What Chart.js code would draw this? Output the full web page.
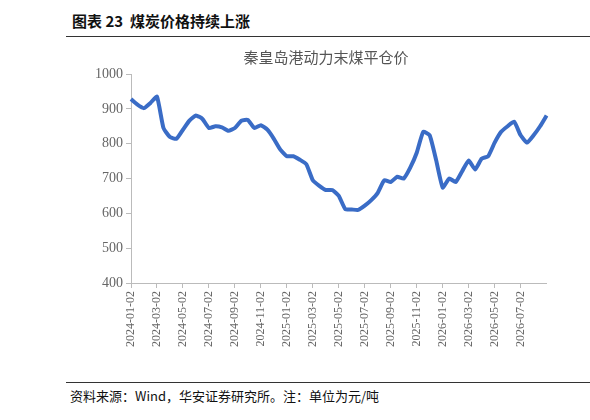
<!DOCTYPE html>
<html><head><meta charset="utf-8">
<script src="https://cdn.jsdelivr.net/npm/chart.js@4"></script>
<style>
body{margin:0;background:#fff;width:590px;height:420px;position:relative;overflow:hidden;font-family:"Noto Sans CJK SC",sans-serif}
#head{position:absolute;left:72px;top:10px;font-size:15px;font-weight:bold;color:#111}
#hline{position:absolute;left:66px;top:36px;width:524px;border-top:1px solid #333}
#foot{position:absolute;left:70px;top:386px;font-size:13px;color:#111}
#fline{position:absolute;left:66px;top:382px;width:524px;border-top:1px solid #333}
#wrap{position:absolute;left:92px;top:46px;width:472px;height:304px}
</style></head><body>
<div id="head">图表 23 &nbsp;煤炭价格持续上涨</div>
<div id="hline"></div>
<div id="wrap"><canvas id="c"></canvas></div>
<div id="fline"></div>
<div id="foot">资料来源：Wind，华安证券研究所。注：单位为元/吨</div>
<script>
// half-monthly points, tick every 2 months
const tickLabels = ['2024-01-02','2024-03-02','2024-05-02','2024-07-02','2024-09-02','2024-11-02',
  '2025-01-02','2025-03-02','2025-05-02','2025-07-02','2025-09-02','2025-11-02',
  '2026-01-02','2026-03-02','2026-05-02','2026-07-02'];
const price = [928,912,902,917,935,845,819,814,840,866,881,871,845,850,847,837,
  845,866,868,845,853,840,814,783,764,764,754,741,695,679,667,667,
  650,612,611,610,622,638,659,695,690,705,700,731,774,834,824,752,
  674,700,690,721,752,726,757,764,803,834,850,863,824,803,824,850,881];
const labels = price.map((v, i) => i % 4 === 0 ? (tickLabels[i / 4] || '') : '');

new Chart(document.getElementById('c'), {
  type: 'line',
  data: {
    labels: labels,
    datasets: [{ data: price, borderColor: '#3a6cc6', borderWidth: 4, pointRadius: 0, tension: 0.15 }]
  },
  options: {
    responsive: true,
    maintainAspectRatio: false,
    animation: false,
    layout: { padding: { right: 4 } },
    plugins: {
      legend: { display: false },
      tooltip: { enabled: false },
      title: { display: true, text: '秦皇岛港动力末煤平仓价', color: '#555',
        font: { family: 'Noto Sans CJK SC', size: 15, weight: 'normal' }, padding: { top: 2, bottom: 8 } }
    },
    scales: {
      x: {
        offset: false,
        grid: { drawOnChartArea: false, tickLength: 5,
          color: c => labels[c.index] ? '#bbb' : 'rgba(0,0,0,0)' },
        border: { color: '#bbb' },
        ticks: { autoSkip: false, maxRotation: 90, minRotation: 90, color: '#666',
          font: { family: 'Liberation Serif', size: 12 } }
      },
      y: {
        min: 400, max: 1000,
        grid: { drawOnChartArea: false, tickLength: 5, color: '#bbb' },
        border: { color: '#bbb' },
        ticks: { stepSize: 100, color: '#666', callback: v => String(v),
          font: { family: 'Liberation Serif', size: 14 } }
      }
    }
  }
});
</script>
</body></html>
